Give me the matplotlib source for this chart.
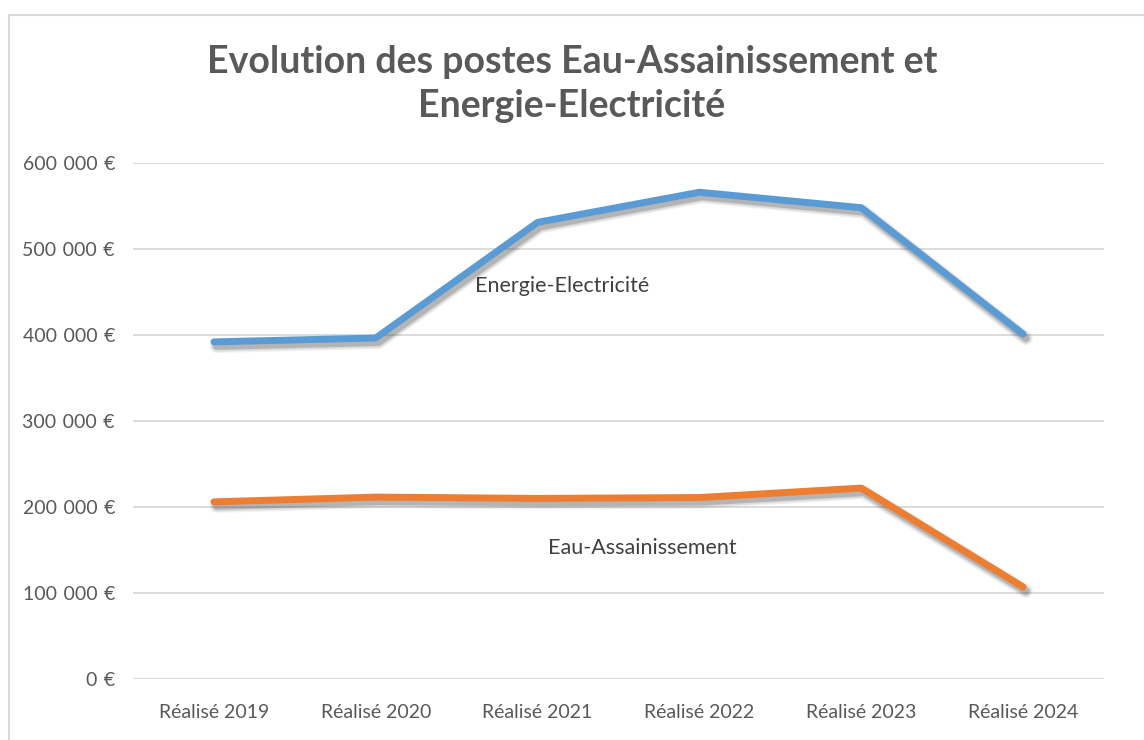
import matplotlib

matplotlib.use("Agg")
import matplotlib.pyplot as plt
import matplotlib.patheffects as pe
from matplotlib.patches import Rectangle
from matplotlib.ticker import FuncFormatter

plt.rcParams["font.family"] = ["Lato", "DejaVu Sans"]

categories = ["Réalisé 2019", "Réalisé 2020", "Réalisé 2021",
              "Réalisé 2022", "Réalisé 2023", "Réalisé 2024"]
energie = [392000, 396500, 531000, 566000, 548000, 401000]
eau = [206000, 211500, 210000, 211000, 222000, 107000]
yticks = [0, 100000, 200000, 300000, 400000, 500000, 600000]

TEXT = "#595959"
fig = plt.figure(figsize=(11.44, 7.40), dpi=100)
ax = fig.add_axes([133 / 1144, 1 - 679 / 740, (1104 - 133) / 1144, (679 - 163) / 740])

# chart area border like the Excel frame
fig.patches.append(Rectangle((9 / 1144, -0.01), 1.2, 1 - 15 / 740 + 0.01,
                             transform=fig.transFigure, fill=False,
                             edgecolor="#D9D9D9", lw=1.5))

x = list(range(len(categories)))
# soft blurred drop shadow, Excel style
shadow = [pe.SimpleLineShadow(offset=(2, -3), shadow_color="#404040", alpha=0.07, linewidth=10),
          pe.SimpleLineShadow(offset=(2, -3), shadow_color="#404040", alpha=0.12, linewidth=8),
          pe.SimpleLineShadow(offset=(2, -3), shadow_color="#404040", alpha=0.25, linewidth=5.5),
          pe.Normal()]
ax.plot(x, energie, color="#5B9BD5", lw=5, solid_capstyle="round",
        solid_joinstyle="round", path_effects=shadow, zorder=3)
ax.plot(x, eau, color="#ED7D31", lw=5, solid_capstyle="round",
        solid_joinstyle="round", path_effects=shadow, zorder=3)

ax.text(2.15, 457000, "Energie-Electricité", fontsize=15.5, color="#404040",
        ha="center", va="center")
ax.text(2.65, 152000, "Eau-Assainissement", fontsize=15.5, color="#404040",
        ha="center", va="center")

ax.set_xlim(-0.5, len(categories) - 0.5)
ax.set_ylim(0, 600000)
ax.set_yticks(yticks)
ax.yaxis.set_major_formatter(
    FuncFormatter(lambda v, _: f"{int(v):,}\u2004€".replace(",", "\u2004")))
ax.set_xticks(x)
ax.set_xticklabels(categories)
ax.tick_params(axis="both", length=0, labelsize=14, labelcolor=TEXT)
ax.tick_params(axis="y", pad=13)
ax.tick_params(axis="x", pad=18)
ax.grid(axis="y", color="#D9D9D9", lw=1.3)
ax.set_axisbelow(True)
for s in ax.spines.values():
    s.set_visible(False)

fig.text(0.5, 1 - 62 / 740, "Evolution des postes Eau-Assainissement et",
         ha="center", va="center", fontsize=27, fontweight="bold", color=TEXT)
fig.text(0.5, 1 - 106 / 740, "Energie-Electricité",
         ha="center", va="center", fontsize=27, fontweight="bold", color=TEXT)

fig.savefig("out.png", dpi=100)
